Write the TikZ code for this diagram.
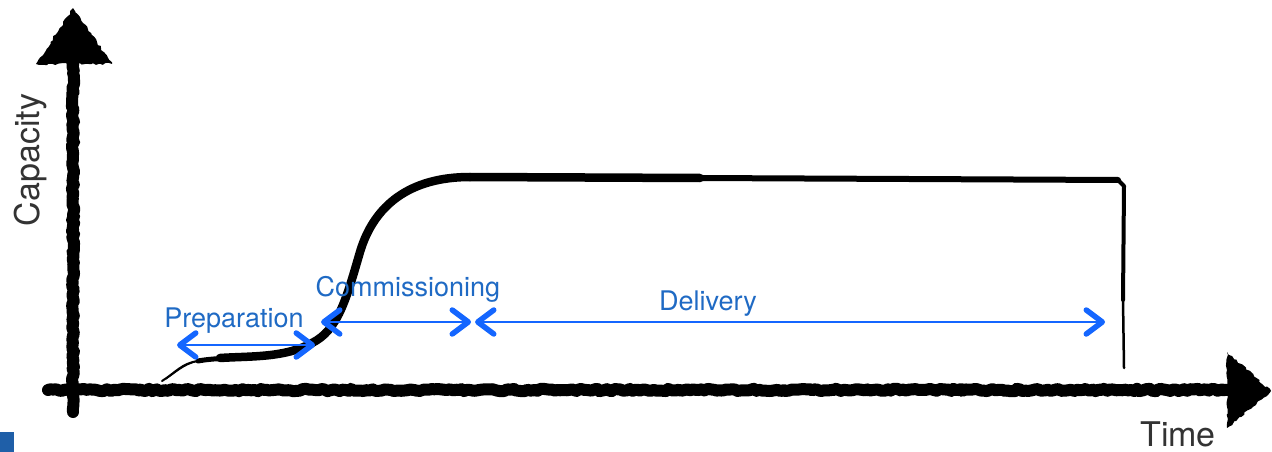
\documentclass[tikz,border=0pt]{standalone}
\usepackage{fontspec}
\setmainfont{TeX Gyre Heros}
\usetikzlibrary{arrows.meta,decorations.pathmorphing}
\definecolor{arrowblue}{HTML}{1466FF}
\definecolor{textblue}{HTML}{1F6AC4}
\definecolor{axisgray}{HTML}{333333}
\definecolor{squareblue}{HTML}{1F5FA8}
\begin{document}
\begin{tikzpicture}[x=1pt,y=-1pt,
  brush/.style={draw=black, line width=#1, line cap=round, line join=round},
  rough/.style={decorate, decoration={random steps, segment length=3pt, amplitude=1.2pt}},
  barb/.tip={Straight Barb[length=16pt,width=24pt,line width=5.5pt,round]},
  span/.style={draw=arrowblue, line width=2.6pt, barb-barb},
  phase/.style={text=textblue, font=\fontsize{27}{30}\selectfont, inner sep=0pt, anchor=base},
  axislabel/.style={text=axisgray, font=\fontsize{34}{40}\selectfont, inner sep=0pt}]
\pgfmathsetseed{11}
\useasboundingbox (0,0) rectangle (1272,452);
% blue square
\fill[squareblue] (0,432) rectangle (14,452);
% axes
\coordinate (origin) at (73,390);
\coordinate (ybot) at (73,412);
\coordinate (ytop) at (73,58);
\coordinate (xleft) at (48,390);
\coordinate (xright) at (1232,390);
\draw[brush=12pt, rough] (ybot) -- (ytop);
\draw[brush=8pt, rough] (ybot) -- (ytop);
\fill[black, rough] (36,64) -- (73,8) -- (112,64) -- cycle;
\draw[brush=12pt, rough] (xleft) -- (xright);
\draw[brush=8pt, rough] (xleft) -- (xright);
\fill[black, rough] (1227,352) -- (1271,391) -- (1227,428) -- cycle;
% capacity curve
\coordinate (c0) at (162,381);
\coordinate (c1) at (198,361);
\coordinate (c2) at (312,343);
\coordinate (c3) at (360,252);
\coordinate (c4) at (470,177);
\coordinate (c5) at (1118,180);
\coordinate (c6) at (1124,186);
\coordinate (c7) at (1124,368);
\draw[brush=2pt] (c0) .. controls (175,373) and (182,363) .. (c1);
\draw[brush=1pt] (166,379) .. controls (178,371) and (186,362) .. (205,360);
\draw[brush=5pt] (c1) .. controls (230,355) and (275,362) .. (c2);
\draw[brush=8.5pt] (220,358) .. controls (250,356) and (285,358) .. (c2)
  .. controls (338,330) and (346,300) .. (c3)
  .. controls (374,205) and (410,177) .. (c4);
\draw[brush=8.5pt] (c4) -- (700,178);
\draw[brush=6pt] (700,178) -- (c5);
\draw[brush=4pt] (c5) -- (c6) -- (1123,300);
\draw[brush=2.5pt] (1123,300) -- (c7);
% phase spans
\coordinate (p0) at (177,345);
\coordinate (p1) at (315,345);
\coordinate (q0) at (321,322);
\coordinate (q1) at (471,322);
\coordinate (r0) at (475,322);
\coordinate (r1) at (1105,322);
\draw[span] (p0) -- (p1);
\draw[span] (q0) -- (q1);
\draw[span] (r0) -- (r1);
% labels
\node[phase] (prep) at (234,327) {Preparation};
\node[phase] (comm) at (408,296) {Commissioning};
\node[phase] (deliv) at (708,310) {Delivery};
\node[axislabel, rotate=90] (cap) at (31,160) {Capacity};
\node[axislabel, anchor=base] (time) at (1178,446) {Time};
\end{tikzpicture}
\end{document}
